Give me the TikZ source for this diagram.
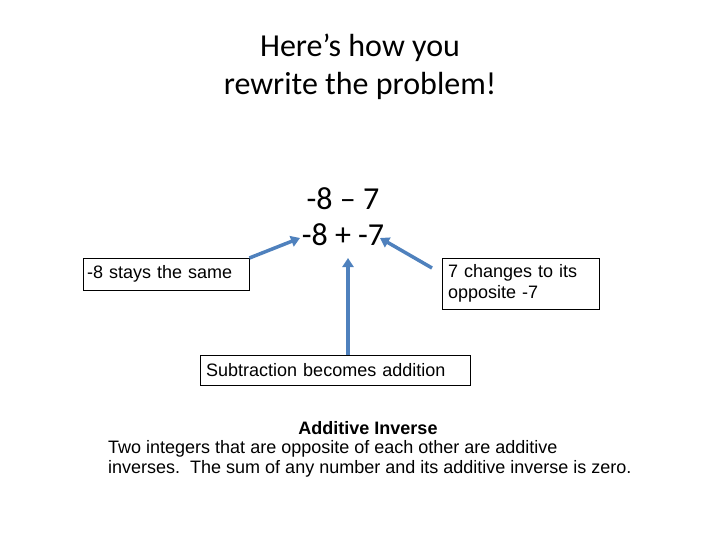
\documentclass[tikz,border=0pt]{standalone}
\usepackage{fontspec}
\setmainfont{Liberation Sans}
\newfontfamily\titlefont{Carlito}
\usetikzlibrary{arrows.meta, positioning}
\definecolor{arrowblue}{RGB}{79,129,189}

\begin{document}
\begin{tikzpicture}[x=1pt, y=-1pt,
    labelbox/.style={draw, thin, align=left, anchor=north west, inner sep=0pt, font=\fontsize{18}{21}\selectfont},
    pointer/.style={draw=arrowblue, line width=3.5pt, -{Triangle[length=9pt, width=11pt]}}]
    \useasboundingbox (0,0) rectangle (720,540);
    % Title
    \node[font=\titlefont\fontsize{32}{38}\selectfont, align=center] (title) at (360,67) {Here’s how you\\rewrite the problem!};
    % Problem
    \node[font=\titlefont\fontsize{32}{36}\selectfont, align=center] (prob) at (343,217) {-8 – 7\\-8 + -7};
    \coordinate (eightpt) at (300,238);
    \coordinate (sevenpt) at (380,238);
    \coordinate (pluspt) at (348,258);
    % Boxes
    \node[labelbox, minimum width=164pt, minimum height=32pt, text width=158pt, inner xsep=4pt] (same) at (83,258) {-8 stays the same};
    \node[labelbox, minimum width=153pt, minimum height=51pt, text width=145pt, inner xsep=6pt] (change) at (442,258) {7 changes to its\\opposite -7};
    \node[labelbox, minimum width=266pt, minimum height=30pt, text width=258pt, inner xsep=6pt] (subtr) at (200,355) {Subtraction becomes addition};
    % Arrows
    \draw[pointer] (same.north east) -- (eightpt);
    \draw[pointer] ([shift={(-10pt,-10pt)}]change.north west) -- (sevenpt);
    \draw[pointer] (subtr.north -| pluspt) -- (pluspt);
    % Definition
    \node[font=\bfseries\fontsize{18}{20}\selectfont] (defhead) at (368,428) {Additive Inverse};
    \node[font=\fontsize{18}{20}\selectfont, align=left, anchor=north west, inner sep=0pt] (deftext) at (108,440) {Two integers that are opposite of each other are additive\\inverses.\ \ The sum of any number and its additive inverse is zero.};
\end{tikzpicture}
\end{document}
